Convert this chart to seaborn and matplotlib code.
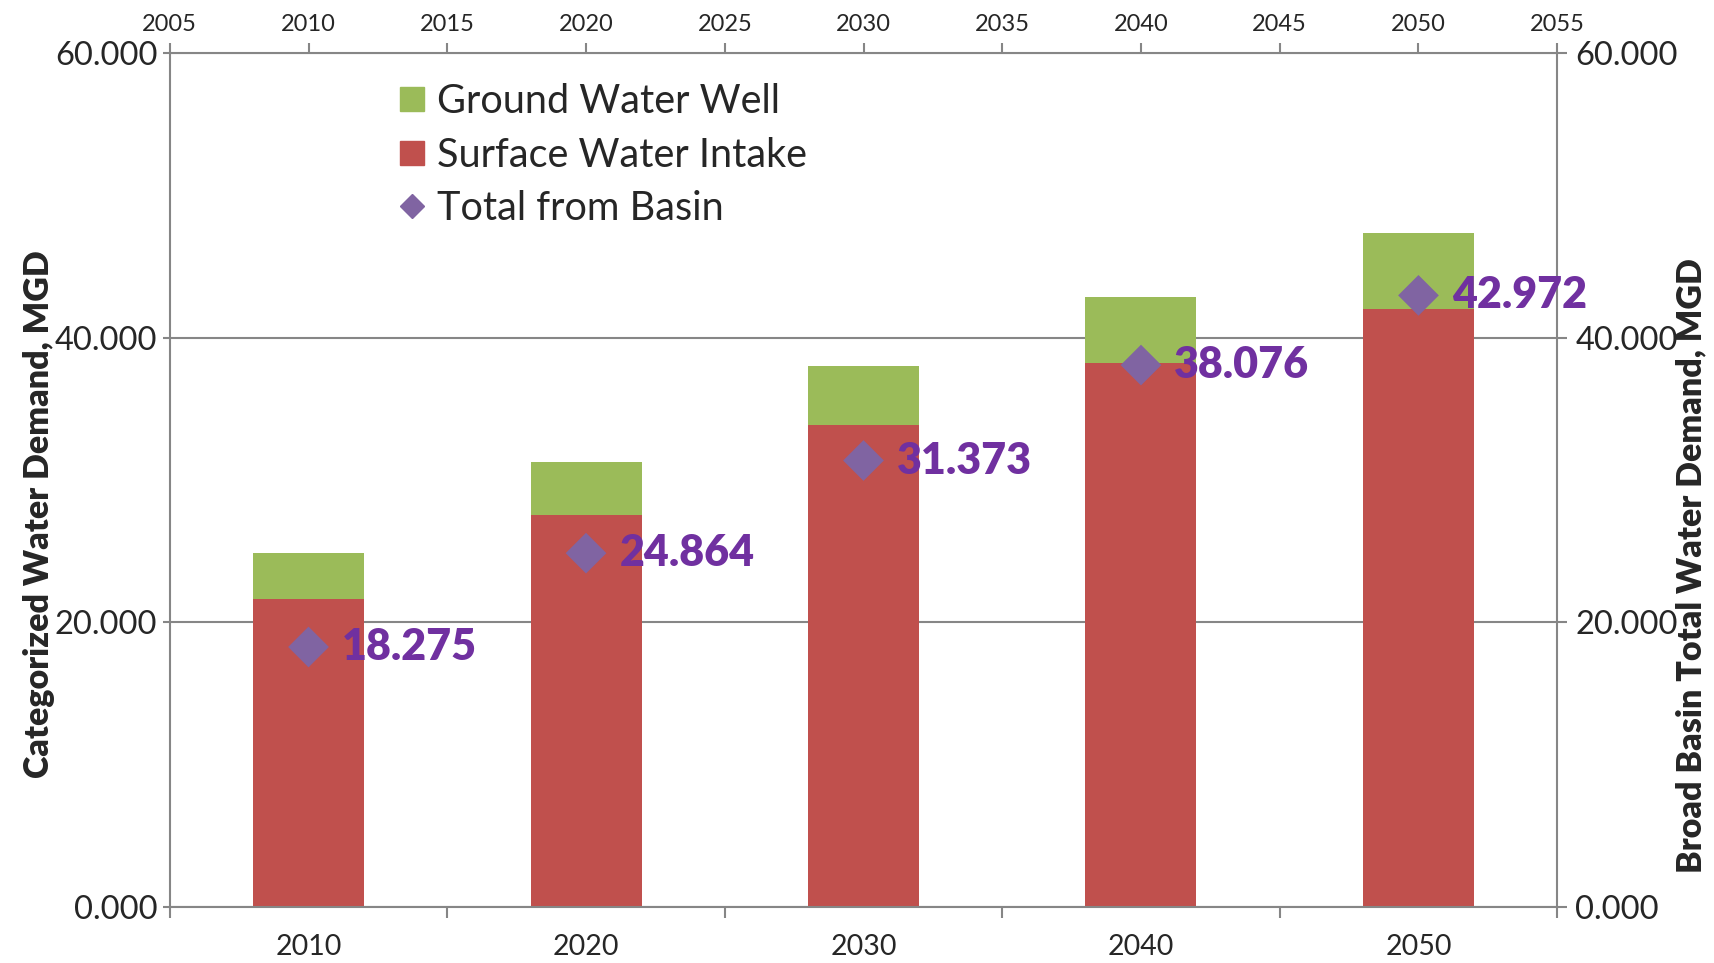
import pandas as pd
import matplotlib.pyplot as plt
import seaborn as sns
from matplotlib.lines import Line2D

# values (MGD)
years = [2010, 2020, 2030, 2040, 2050]
surface_water = [21.66, 27.56, 33.86, 38.20, 42.04]
ground_water = [3.19, 3.74, 4.15, 4.65, 5.29]
basin_total = [18.275, 24.864, 31.373, 38.076, 42.972]

y_ticks = [0, 20, 40, 60]
top_ticks = [2005, 2010, 2015, 2020, 2025, 2030, 2035, 2040, 2045, 2050, 2055]

GREEN = "#9BBB59"
RED = "#C0504D"
PURPLE = "#8064A2"
LABEL_PURPLE = "#7030A0"
AXIS_GRAY = "#868686"

df = pd.DataFrame({
    "year": [str(y) for y in years],
    "surface": surface_water,
    "ground": ground_water,
})
df["stack_top"] = df["surface"] + df["ground"]

sns.set_theme(style="white")
plt.rcParams["font.family"] = ["Lato", "DejaVu Sans"]

fig = plt.figure(figsize=(17.15, 9.63), dpi=100)
ax = fig.add_axes([0.099, 0.058, 0.809, 0.887])

# stacked bars: full stack in green, surface part drawn over it in red
sns.barplot(data=df, x="year", y="stack_top", color=GREEN, saturation=1,
            width=0.4, errorbar=None, linewidth=0, ax=ax)
sns.barplot(data=df, x="year", y="surface", color=RED, saturation=1,
            width=0.4, errorbar=None, linewidth=0, ax=ax)

ax.set_xlim(-0.5, len(years) - 0.5)
ax.set_ylim(0, 60)
ax.set_yticks(y_ticks)
ax.set_yticklabels([f"{v:.3f}" for v in y_ticks])
ax.set_xticks(range(len(years)))
ax.set_xticks([i - 0.5 for i in range(len(years) + 1)], minor=True)
ax.set_axisbelow(True)
ax.yaxis.grid(True, color=AXIS_GRAY, linewidth=1.5)
ax.xaxis.grid(False)
ax.tick_params(axis="x", which="major", length=0, pad=19, labelsize=20.5)
ax.tick_params(axis="x", which="minor", bottom=True, length=8, width=1.5,
               color=AXIS_GRAY, direction="out")
ax.tick_params(axis="y", left=True, length=5, width=1.5, color=AXIS_GRAY,
               direction="out", pad=4, labelsize=23.5)
for side in ["top", "right"]:
    ax.spines[side].set_visible(False)
for side in ["left", "bottom"]:
    ax.spines[side].set_color(AXIS_GRAY)
    ax.spines[side].set_linewidth(1.5)
ax.set_xlabel("")
ax.set_ylabel("Categorized Water Demand, MGD", fontsize=24.5, fontweight="heavy")
ax.yaxis.set_label_coords(-0.083, 0.46)

# secondary axes: top year axis and right total axis for the basin totals
ax2 = fig.add_axes(ax.get_position())
ax2.patch.set_visible(False)
sns.scatterplot(x=years, y=basin_total, marker="D", s=430, color=PURPLE,
                edgecolor="none", legend=False, ax=ax2, zorder=5)
for x, v in zip(years, basin_total):
    ax2.annotate(f"{v:.3f}", (x, v), xytext=(24, 0), textcoords="offset points",
                 va="center", ha="left", fontsize=31, fontweight="heavy",
                 color=LABEL_PURPLE, zorder=6)
ax2.set_xlim(2005, 2055)
ax2.set_ylim(0, 60)
ax2.set_xticks(top_ticks)
ax2.set_yticks(y_ticks)
ax2.set_yticklabels([f"{v:.3f}" for v in y_ticks])
ax2.xaxis.tick_top()
ax2.yaxis.tick_right()
ax2.yaxis.set_label_position("right")
ax2.tick_params(axis="x", top=True, length=7, width=1.5, color=AXIS_GRAY,
                direction="out", pad=6, labelsize=17)
ax2.tick_params(axis="y", right=True, length=7, width=1.5, color=AXIS_GRAY,
                direction="out", pad=6, labelsize=23.5)
for side in ["left", "bottom"]:
    ax2.spines[side].set_visible(False)
for side in ["top", "right"]:
    ax2.spines[side].set_color(AXIS_GRAY)
    ax2.spines[side].set_linewidth(1.5)
ax2.set_ylabel("Broad Basin Total Water Demand, MGD", fontsize=24.5,
               fontweight="heavy", rotation=90)
ax2.yaxis.set_label_coords(1.085, 0.40)

handles = [
    Line2D([], [], linestyle="none", marker="s", markersize=17, color=GREEN),
    Line2D([], [], linestyle="none", marker="s", markersize=17, color=RED),
    Line2D([], [], linestyle="none", marker="D", markersize=12.5, color=PURPLE),
]
ax2.legend(handles, ["Ground Water Well", "Surface Water Intake", "Total from Basin"],
           loc="upper left", bbox_to_anchor=(0.149, 0.988), frameon=False,
           fontsize=28.5, handlelength=0.8, handletextpad=0.22, labelspacing=0.42,
           borderpad=0)

fig.savefig("out.png", dpi=100)
